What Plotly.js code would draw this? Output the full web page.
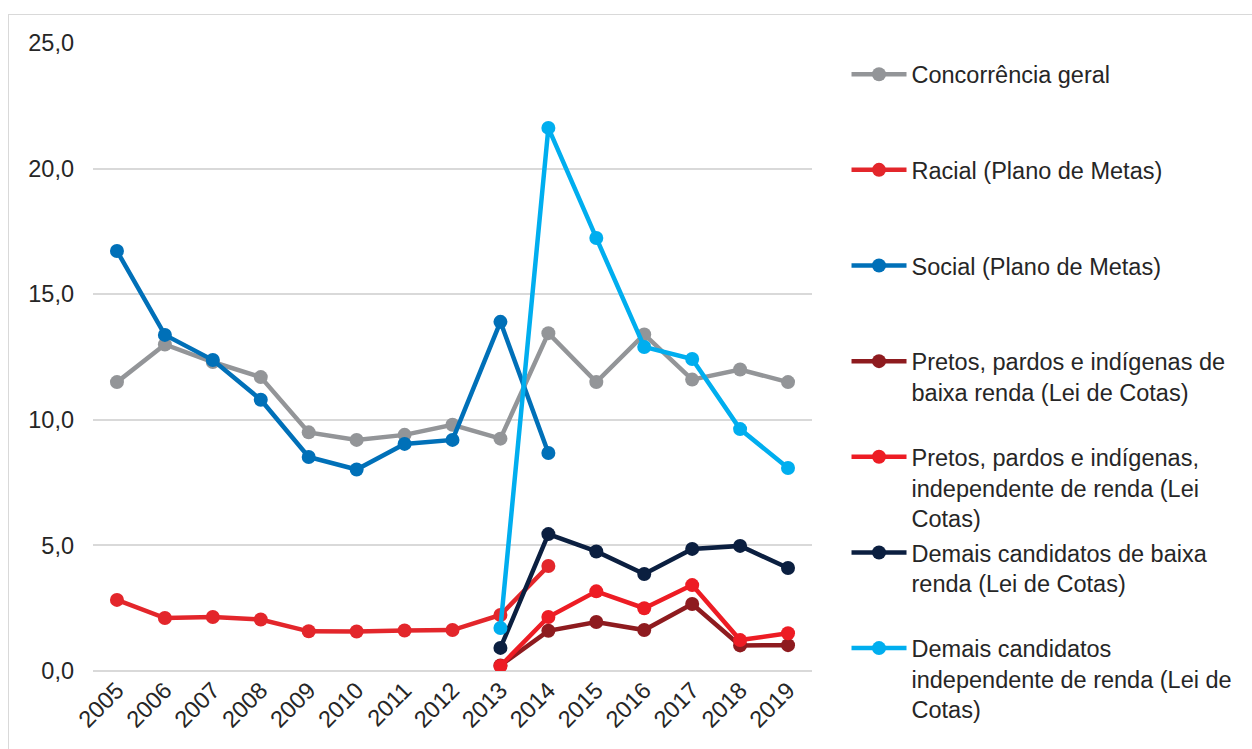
<!DOCTYPE html>
<html>
<head>
<meta charset="utf-8">
<script src="https://cdn.plot.ly/plotly-3.0.1.min.js"></script>
<style>
  html, body { margin: 0; padding: 0; background: #fff; overflow: hidden; }
  #frame { position: absolute; left: 8px; top: 14px; width: 1400px; height: 900px; border: 1.5px solid #D9D9D9; pointer-events: none; z-index: 2; }
  #chart { position: absolute; left: 0; top: 0; width: 1252px; height: 749px; }
</style>
</head>
<body>
<div id="chart"></div>
<div id="frame"></div>
<script>
const years = ['2005','2006','2007','2008','2009','2010','2011','2012','2013','2014','2015','2016','2017','2018','2019'];
const concorrenciaGeral = [11.5, 13.0, 12.3, 11.7, 9.5, 9.2, 9.4, 9.8, 9.25, 13.45, 11.5, 13.4, 11.6, 12.0, 11.5];
const racialPlanoMetas = [2.83, 2.11, 2.15, 2.05, 1.58, 1.57, 1.61, 1.63, 2.23, 4.18, null, null, null, null, null];
const socialPlanoMetas = [16.72, 13.38, 12.38, 10.8, 8.52, 8.02, 9.04, 9.2, 13.9, 8.68, null, null, null, null, null];
const ppiBaixaRenda = [null, null, null, null, null, null, null, null, 0.22, 1.6, 1.95, 1.63, 2.67, 1.02, 1.03];
const ppiIndependente = [null, null, null, null, null, null, null, null, 0.2, 2.15, 3.17, 2.5, 3.42, 1.23, 1.5];
const demaisBaixaRenda = [null, null, null, null, null, null, null, null, 0.92, 5.45, 4.76, 3.86, 4.86, 4.98, 4.1];
const demaisIndependente = [null, null, null, null, null, null, null, null, 1.71, 21.62, 17.24, 12.9, 12.42, 9.63, 8.08];

const seriesNames = [
  'Concorrência geral',
  'Racial (Plano de Metas)',
  'Social (Plano de Metas)',
  'Pretos, pardos e indígenas de<br>baixa renda (Lei de Cotas)',
  'Pretos, pardos e indígenas,<br>independente de renda (Lei<br>Cotas)',
  'Demais candidatos de baixa<br>renda (Lei de Cotas)',
  'Demais candidatos<br>independente de renda (Lei de<br>Cotas)'
];
const seriesValues = [concorrenciaGeral, racialPlanoMetas, socialPlanoMetas, ppiBaixaRenda, ppiIndependente, demaisBaixaRenda, demaisIndependente];
const seriesColors = ['#939598', '#E3262B', '#0070B8', '#8E1B1F', '#ED1C24', '#0B1F40', '#00AEEF'];

function padLines(label) {
  const n = label.split('<br>').length;
  let s = label;
  for (let i = n; i < 3; i++) s += '<br>&nbsp;';
  return s;
}

const traces = seriesValues.map((vals, i) => ({
  type: 'scatter',
  mode: 'lines+markers',
  x: years,
  y: vals,
  name: padLines(seriesNames[i]),
  legendgroup: 'g' + i,
  connectgaps: false,
  line: { color: seriesColors[i], width: 4.5 },
  marker: { color: seriesColors[i], size: 14 },
  hoverinfo: 'x+y'
}));

const layout = {
  width: 1252,
  height: 749,
  paper_bgcolor: '#ffffff',
  plot_bgcolor: '#ffffff',
  separators: ',.',
  margin: { l: 93, r: 440, t: 43, b: 78, autoexpand: false },
  font: { family: '"Liberation Sans", Arial, sans-serif', size: 23.5, color: '#262626' },
  showlegend: true,
  legend: {
    x: 1.048, xanchor: 'left',
    y: 0.985, yanchor: 'top',
    valign: 'top',
    itemwidth: 55,
    tracegroupgap: 1,
    maxheight: 749,
    font: { family: '"Liberation Sans", Arial, sans-serif', size: 23.5, color: '#262626' },
    bgcolor: 'rgba(0,0,0,0)'
  },
  xaxis: {
    type: 'category',
    range: [-0.5, 14.5],
    tickangle: -45,
    showgrid: false,
    zeroline: false,
    showline: false,
    ticks: '',
    tickfont: { size: 23.5, color: '#262626' }
  },
  yaxis: {
    range: [0, 25],
    dtick: 5,
    tick0: 0,
    tickformat: '.1f',
    showgrid: true,
    gridcolor: '#D9D9D9',
    gridwidth: 1.5,
    zeroline: true,
    zerolinecolor: '#D9D9D9',
    zerolinewidth: 1.5,
    showline: false,
    ticks: '',
    ticklabelstandoff: 18,
    tickfont: { size: 23.5, color: '#262626' }
  }
};

Plotly.newPlot('chart', traces, layout, { displayModeBar: false, responsive: false });
</script>
</body>
</html>
